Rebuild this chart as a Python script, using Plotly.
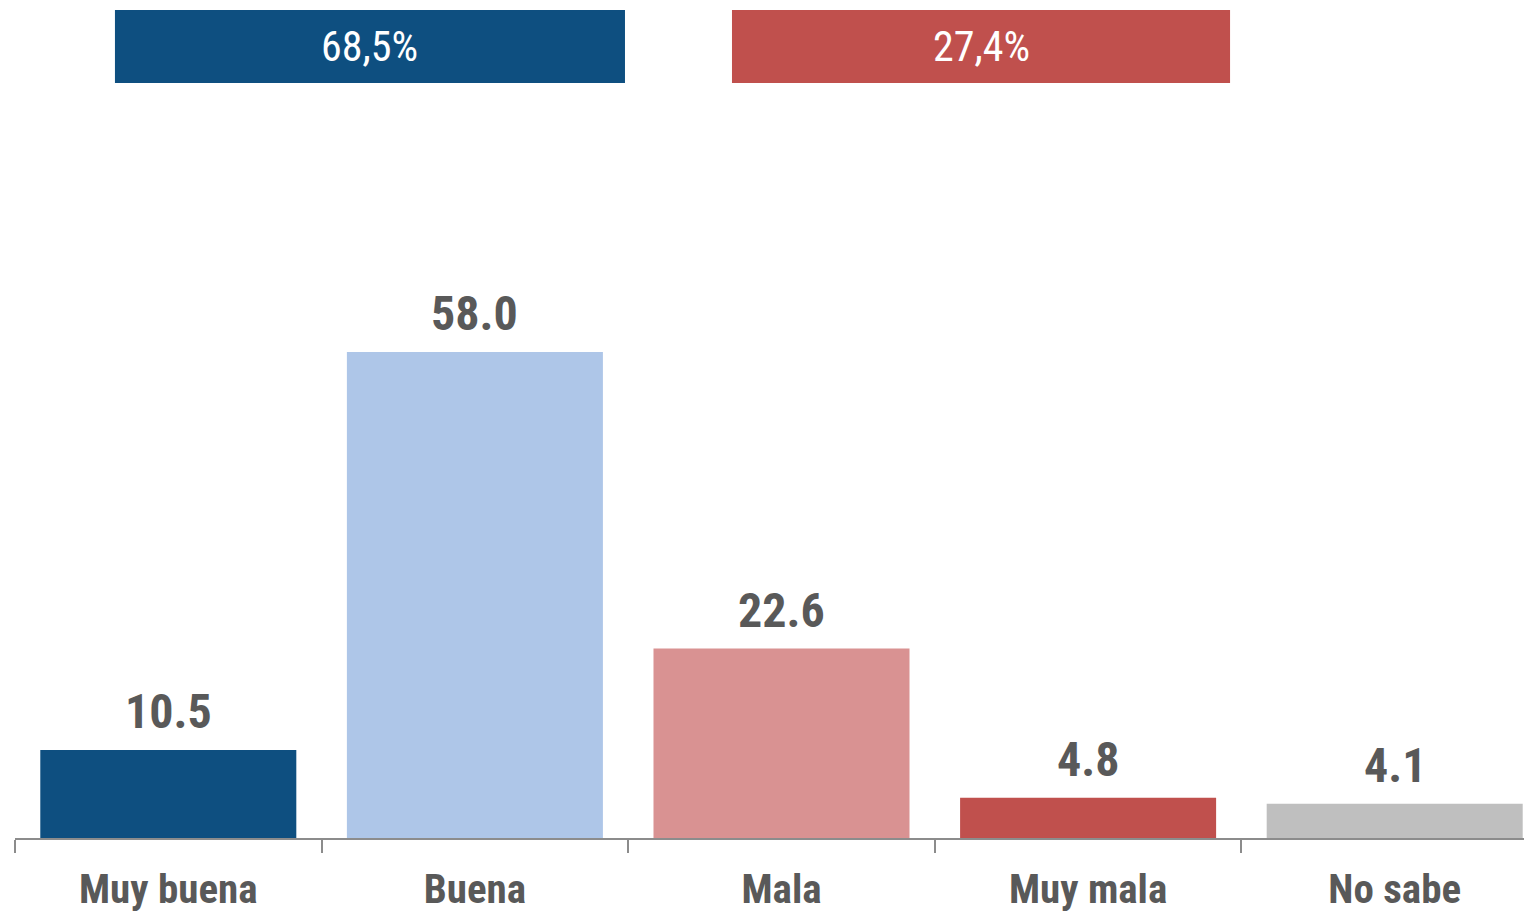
import plotly.graph_objects as go

categories = ["Muy buena", "Buena", "Mala", "Muy mala", "No sabe"]
values = [10.5, 58.0, 22.6, 4.8, 4.1]
value_labels = ["10.5", "58.0", "22.6", "4.8", "4.1"]
bar_colors = ["#0E4F80", "#AEC6E8", "#D99292", "#C0504D", "#BFBFBF"]

summary_labels = ["68,5%", "27,4%"]
summary_colors = ["#0E4F80", "#C0504D"]
summary_x = [(0.0652, 0.3979), (0.4677, 0.7926)]

FONT = "Liberation Sans Narrow, Arial Narrow, Roboto Condensed, sans-serif"
GREY = "#595959"

fig = go.Figure()
fig.add_trace(go.Bar(
    x=categories, y=values, marker=dict(color=bar_colors, line=dict(width=0)),
    hoverinfo="skip", showlegend=False,
))

annotations = []
for c, v, t in zip(categories, values, value_labels):
    annotations.append(dict(
        x=c, y=v, xref="x", yref="y", text=t, showarrow=False,
        yanchor="bottom", yshift=8,
        font=dict(family=FONT, size=48, color=GREY, weight="bold"),
    ))

shapes = []
for (x0, x1), col, lab in zip(summary_x, summary_colors, summary_labels):
    shapes.append(dict(type="rect", xref="paper", yref="paper",
                       x0=x0, x1=x1, y0=0.9118, y1=1.0,
                       fillcolor=col, line=dict(width=0), layer="above"))
    annotations.append(dict(
        x=(x0 + x1) / 2, y=0.9559, xref="paper", yref="paper", text=lab,
        showarrow=False, xanchor="center", yanchor="middle",
        font=dict(family=FONT, size=42, color="white"),
    ))

fig.update_layout(
    width=1545, height=912,
    margin=dict(l=7, r=5, t=2, b=82),
    paper_bgcolor="white", plot_bgcolor="white",
    bargap=0.165,
    shapes=shapes, annotations=annotations,
    font=dict(family=FONT, color=GREY),
)
fig.update_xaxes(
    showline=True, linecolor="#8C8C8C", linewidth=2,
    ticks="outside", tickson="boundaries", ticklen=13, tickwidth=2, tickcolor="#8C8C8C",
    tickfont=dict(family=FONT, size=41, color=GREY, weight="bold"),
    ticklabelstandoff=14,
    showgrid=False,
)
fig.update_yaxes(range=[0, 98.8], visible=False, showgrid=False, zeroline=False)

fig.write_html("out.html")
